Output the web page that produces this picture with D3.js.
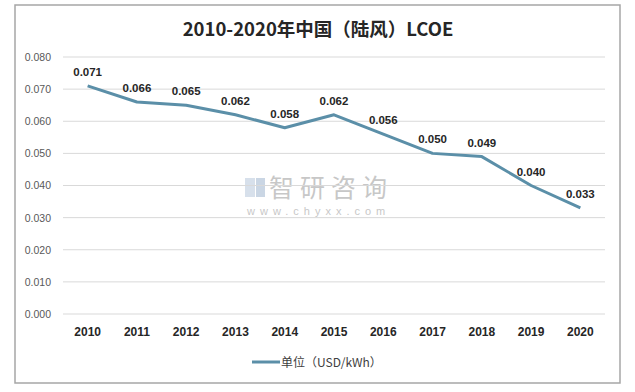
<!DOCTYPE html>
<html><head><meta charset="utf-8">
<script src="https://cdn.jsdelivr.net/npm/d3@7"></script>
<style>body{margin:0;background:#fff;}svg{display:block;}</style>
</head><body>
<script>
const years = ["2010","2011","2012","2013","2014","2015","2016","2017","2018","2019","2020"];
const values = [0.071,0.066,0.065,0.062,0.058,0.062,0.056,0.050,0.049,0.040,0.033];
const yTicks = [0,0.01,0.02,0.03,0.04,0.05,0.06,0.07,0.08];
const title = "2010-2020年中国（陆风）LCOE";
const seriesName = "单位（USD/kWh）";

const W = 635, H = 392;
const svg = d3.select("body").append("svg").attr("width", W).attr("height", H);
svg.append("rect").attr("x", 15).attr("y", 5).attr("width", 605).attr("height", 378)
  .attr("fill", "#fff").attr("stroke", "#a6a6a6").attr("stroke-width", 1.5);

const pLeft = 63, pRight = 605, pTop = 57, pBottom = 314;
const x = d3.scaleBand().domain(years).range([pLeft, pRight]);
const y = d3.scaleLinear().domain([0, 0.08]).range([pBottom, pTop]);

const font = "'Liberation Sans', 'Noto Sans CJK SC', sans-serif";

svg.append("text").attr("x", 318).attr("y", 36).attr("text-anchor", "middle")
  .attr("font-family", "'Liberation Sans Narrow', 'Noto Sans CJK SC', sans-serif")
  .attr("font-weight", "bold").attr("font-size", 18.5).attr("fill", "#262626").text(title);

// watermark
const wm = svg.append("g").attr("opacity", 0.55);
wm.append("rect").attr("x", 245).attr("y", 178).attr("width", 10).attr("height", 19).attr("fill", "#b7c8dc");
wm.append("rect").attr("x", 256).attr("y", 178).attr("width", 9).attr("height", 19).attr("fill", "#9fb6cf");
wm.append("text").attr("x", 269).attr("y", 197).attr("font-family", "'Noto Sans CJK SC', sans-serif")
  .attr("font-size", 25).attr("fill", "#9a9a9a").attr("letter-spacing", 6).text("智研咨询");
wm.append("text").attr("x", 247).attr("y", 215).attr("font-family", font)
  .attr("font-size", 11).attr("fill", "#9a9a9a").attr("letter-spacing", 5).text("www.chyxx.com");

// gridlines
svg.append("g").selectAll("line").data(yTicks).join("line")
  .attr("x1", pLeft).attr("x2", pRight).attr("y1", d => y(d)).attr("y2", d => y(d))
  .attr("stroke", "#d9d9d9").attr("stroke-width", 1);

// y axis labels
const yAxis = d3.axisLeft(y).tickValues(yTicks).tickFormat(d3.format(".3f")).tickSize(0).tickPadding(12);
const ya = svg.append("g").attr("transform", `translate(${pLeft},0)`).call(yAxis);
ya.select(".domain").remove();
ya.selectAll("text").attr("font-family", font).attr("font-size", 10.5).attr("fill", "#595959");

// x axis labels
const xAxis = d3.axisBottom(x).tickSize(0).tickPadding(13);
const xa = svg.append("g").attr("transform", `translate(0,${pBottom})`).call(xAxis);
xa.select(".domain").remove();
xa.selectAll("text").attr("font-family", font).attr("font-size", 12).attr("font-weight", "bold").attr("fill", "#262626");

// line
const line = d3.line().x((d, i) => x(years[i]) + x.bandwidth() / 2).y(d => y(d));
svg.append("path").datum(values).attr("d", line).attr("fill", "none")
  .attr("stroke", "#5b8fa8").attr("stroke-width", 3).attr("stroke-linejoin", "round");

// data labels
svg.append("g").selectAll("text").data(values).join("text")
  .attr("x", (d, i) => x(years[i]) + x.bandwidth() / 2).attr("y", d => y(d) - 10)
  .attr("text-anchor", "middle").attr("font-family", font).attr("font-size", 11.5)
  .attr("font-weight", "bold").attr("fill", "#262626").text(d => d3.format(".3f")(d));

// legend
svg.append("line").attr("x1", 252).attr("x2", 280).attr("y1", 362).attr("y2", 362)
  .attr("stroke", "#5b8fa8").attr("stroke-width", 3);
svg.append("text").attr("x", 281).attr("y", 366.5).attr("font-family", "'Noto Sans CJK SC', sans-serif")
  .attr("font-size", 12).attr("fill", "#404040").text(seriesName);
</script>
</body></html>
